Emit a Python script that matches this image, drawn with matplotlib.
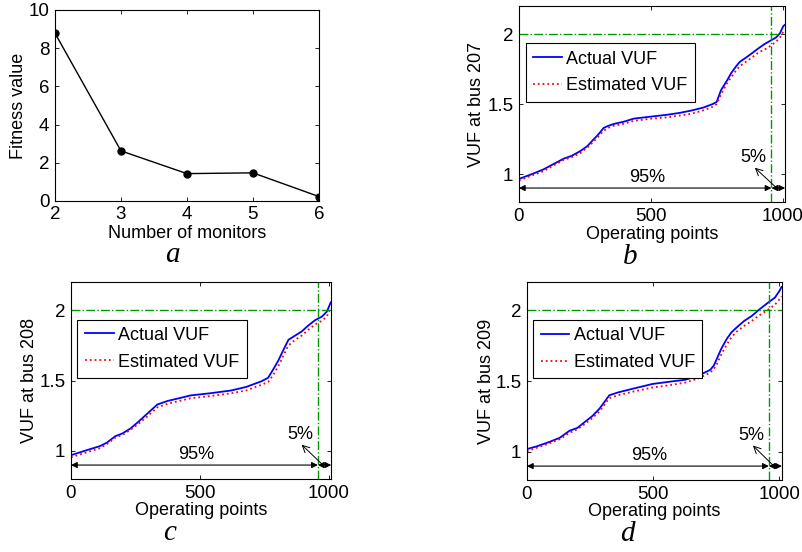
import numpy as np
import matplotlib.pyplot as plt

plt.rcParams['font.family'] = ['Liberation Sans', 'DejaVu Sans']
plt.rcParams['font.size'] = 12.5

# a) fitness vs number of monitors
monitors = [2, 3, 4, 5, 6]
fitness = [8.78, 2.62, 1.43, 1.47, 0.23]

# b) bus 207
ops_b = [0, 50, 93, 130, 169, 200, 233, 260, 277, 300, 322, 340, 360, 400, 436, 500,
         564, 610, 653, 700, 735, 750, 767, 790, 805, 820, 837, 860, 882, 910, 933,
         958, 975, 990, 1003, 1008]
actual_b = [0.965, 1.00, 1.033, 1.07, 1.109, 1.13, 1.164, 1.20, 1.235, 1.28, 1.33, 1.345,
            1.358, 1.375, 1.396, 1.41, 1.424, 1.437, 1.453, 1.475, 1.50, 1.515, 1.60,
            1.67, 1.72, 1.76, 1.80, 1.83, 1.86, 1.90, 1.93, 1.957, 1.975, 2.005, 2.057, 2.065]
est_b = [0.955, 0.99, 1.02, 1.06, 1.10, 1.12, 1.15, 1.19, 1.22, 1.265, 1.31, 1.33, 1.345,
         1.36, 1.38, 1.395, 1.405, 1.418, 1.43, 1.455, 1.48, 1.50, 1.57, 1.65, 1.69, 1.73,
         1.77, 1.80, 1.83, 1.87, 1.89, 1.92, 1.945, 1.975, 2.017, 2.025]

# c) bus 208
ops_c = [0, 60, 113, 140, 172, 200, 231, 260, 296, 335, 374, 420, 465, 540, 622, 680,
         739, 765, 785, 804, 825, 844, 870, 896, 920, 948, 974, 993, 1008]
actual_c = [0.97, 1.005, 1.035, 1.06, 1.105, 1.125, 1.16, 1.205, 1.265, 1.33, 1.355, 1.375,
            1.395, 1.41, 1.43, 1.455, 1.495, 1.52, 1.58, 1.64, 1.72, 1.79, 1.82, 1.85,
            1.89, 1.93, 1.955, 1.99, 2.055]
est_c = [0.955, 0.99, 1.02, 1.05, 1.095, 1.115, 1.15, 1.19, 1.245, 1.31, 1.335, 1.355,
         1.375, 1.39, 1.41, 1.43, 1.47, 1.49, 1.54, 1.60, 1.68, 1.75, 1.79, 1.82, 1.86,
         1.90, 1.925, 1.955, 2.02]

# d) bus 209
ops_d = [0, 40, 88, 130, 169, 200, 228, 260, 287, 310, 326, 360, 418, 497, 560, 628, 680,
         726, 740, 752, 770, 792, 810, 831, 860, 890, 916, 955, 982, 1001, 1008]
actual_d = [1.02, 1.04, 1.07, 1.10, 1.15, 1.17, 1.21, 1.255, 1.305, 1.36, 1.40, 1.42, 1.446,
            1.48, 1.495, 1.51, 1.54, 1.58, 1.61, 1.657, 1.73, 1.80, 1.845, 1.88, 1.925,
            1.96, 2.0, 2.055, 2.09, 2.14, 2.165]
est_d = [1.005, 1.03, 1.06, 1.09, 1.135, 1.16, 1.195, 1.24, 1.285, 1.34, 1.38, 1.40, 1.425,
         1.455, 1.47, 1.49, 1.52, 1.56, 1.585, 1.62, 1.69, 1.76, 1.81, 1.85, 1.89, 1.925,
         1.96, 2.005, 2.04, 2.08, 2.10]

limit = 2.0
cut = 958

fig = plt.figure(figsize=(8.02, 5.52), dpi=100)


def style(ax):
    ax.tick_params(direction='in', top=True, right=True, length=3, width=0.6, pad=4,
                   labelsize=13.5)
    for s in ax.spines.values():
        s.set_linewidth(0.8)


# panel a
ax = fig.add_axes([0.0686, 0.636, 0.329, 0.346])
ax.plot(monitors, fitness, 'k-', marker='o', ms=5, lw=1)
ax.set_xlim(2, 6)
ax.set_ylim(0, 10)
ax.set_xticks([2, 3, 4, 5, 6])
ax.set_yticks([0, 2, 4, 6, 8, 10])
ax.set_xlabel('Number of monitors', va='center', fontsize=13)
ax.set_ylabel('Fitness value', va='center', fontsize=13)
ax.xaxis.set_label_coords(0.5, -0.168)
ax.yaxis.set_label_coords(-0.14, 0.5)
style(ax)


def vuf_panel(rect, ops, actual, est, bus, ylab_x, xlab_y):
    ax = fig.add_axes(rect)
    ax.plot(ops, actual, 'b-', lw=1.3, label='Actual VUF')
    ax.plot(ops, est, color='r', ls=':', lw=1.3, label='Estimated VUF')
    ax.axhline(limit, color=(0, 0.6, 0), ls='-.', lw=1)
    ax.axvline(cut, color=(0, 0.6, 0), ls='-.', lw=1)
    ax.set_xlim(0, 1010)
    ax.set_ylim(0.8, 2.2)
    ax.set_xticks([0, 500, 1000])
    ax.set_yticks([1, 1.5, 2])
    ax.set_yticklabels(['1', '1.5', '2'])
    ax.set_xlabel('Operating points', va='center', fontsize=13)
    ax.set_ylabel('VUF at bus %d' % bus, va='center', fontsize=13)
    ax.xaxis.set_label_coords(0.5, xlab_y)
    ax.yaxis.set_label_coords(ylab_x, 0.5)
    ap = dict(arrowstyle='<|-|>', color='k', lw=0.8, shrinkA=0, shrinkB=0,
              mutation_scale=9)
    ax.annotate('', xy=(0, 0.9), xytext=(cut, 0.9), arrowprops=ap)
    ax.annotate('', xy=(cut, 0.9), xytext=(1010, 0.9), arrowprops=ap)
    ax.text(485, 0.915, '95%', ha='center', va='bottom', fontsize=13)
    ax.annotate('', xy=(895, 1.045), xytext=(978, 0.9),
                arrowprops=dict(arrowstyle='->', color='k', lw=0.7, shrinkA=0, shrinkB=0))
    ax.text(890, 1.055, '5%', ha='center', va='bottom', fontsize=13)
    leg = ax.legend(loc='upper left', bbox_to_anchor=(0.025, 0.81), fontsize=13,
                    fancybox=False, edgecolor='k', framealpha=1, handlelength=1.6,
                    handletextpad=0.25, borderpad=0.4, labelspacing=0.55,
                    borderaxespad=0)
    leg.get_frame().set_linewidth(0.8)
    style(ax)
    return ax


vuf_panel([0.647, 0.634, 0.332, 0.355], ops_b, actual_b, est_b, 207, -0.158, -0.168)
vuf_panel([0.0885, 0.132, 0.3245, 0.357], ops_c, actual_c, est_c, 208, -0.158, -0.158)
vuf_panel([0.657, 0.130, 0.318, 0.359], ops_d, actual_d, est_d, 209, -0.16, -0.158)

serif = dict(family=['Liberation Serif', 'DejaVu Serif'], style='italic', fontsize=21,
             ha='center', va='center')
fig.text(172 / 802, 1 - 255 / 552, 'a', **serif)
fig.text(630 / 802, 1 - 257 / 552, 'b', **serif)
fig.text(170 / 802, 1 - 533 / 552, 'c', **serif)
fig.text(627 / 802, 1 - 534 / 552, 'd', **serif)

fig.savefig('out.png', dpi=100)
